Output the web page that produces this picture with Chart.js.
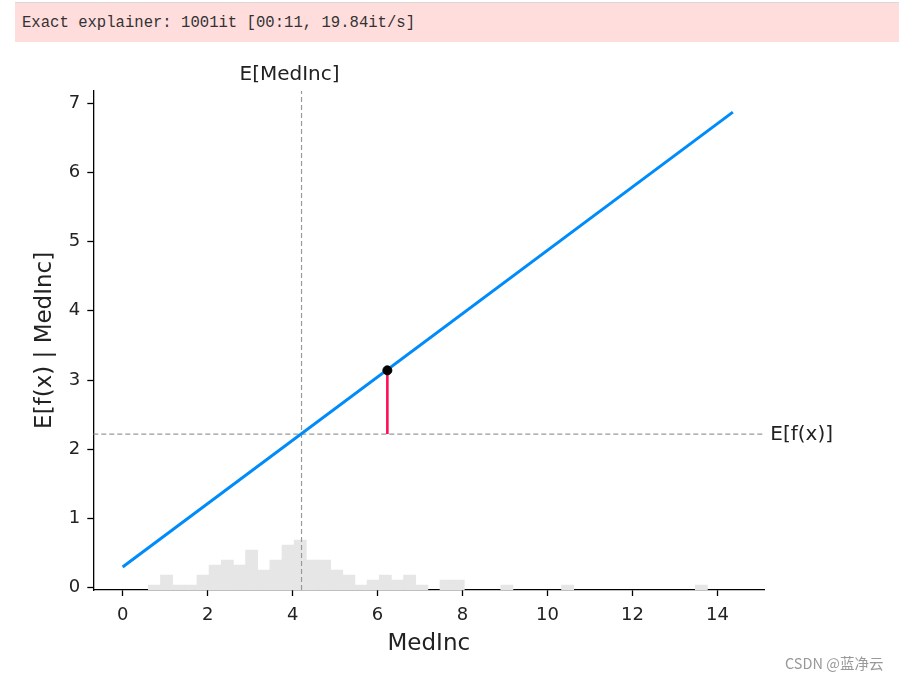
<!DOCTYPE html>
<html>
<head>
<meta charset="utf-8">
<script src="https://cdn.jsdelivr.net/npm/chart.js@4.4.1/dist/chart.umd.min.js"></script>
<style>
    body { margin: 0; background: #fff; width: 899px; height: 678px; overflow: hidden; position: relative; }
    #chart { position: absolute; left: 0; top: 0; }
    .log-line {
        position: absolute; left: 15px; top: 2px; width: 884px; height: 40px;
        background: #ffdddd; border-top: 1px solid #d8d8d8;
        font-family: "Liberation Mono", monospace; font-size: 15.6px; color: #333;
        line-height: 41px; padding-left: 7px; box-sizing: border-box; white-space: pre;
    }
    .watermark {
        position: absolute; left: 785px; top: 652px;
        font-family: "Noto Sans CJK SC", sans-serif; font-size: 14.5px; color: #999;
    }
</style>
</head>
<body>
<div class="log-line">Exact explainer: 1001it [00:11, 19.84it/s]</div>
<canvas id="chart" width="899" height="678"></canvas>
<div class="watermark">CSDN @蓝净云</div>
<script>
// values
const featureName = 'MedInc';
const xTicks = [0, 2, 4, 6, 8, 10, 12, 14];
const yTicks = [0, 1, 2, 3, 4, 5, 6, 7];
const xRange = [-0.69, 15.1];
const yRange = [-0.033, 7.18];

// partial dependence line (linear model)
const pdX = [0, 14.36];
const pdY = [0.30, 6.87];

// expected values and the explained sample
const expectedX = 4.21;    // E[MedInc]
const expectedY = 2.22;    // E[f(x)]
const sampleX = 6.23;
const sampleY = 3.14;

// histogram of the 100 background samples, 50 bins
const histStart = 0.605;
const histBinWidth = 0.286;
const histCounts = [1, 3, 1, 1, 3, 5, 6, 5, 8, 4,
                    6, 9, 10, 6, 6, 4, 3, 1, 2, 3,
                    2, 3, 1, 0, 2, 2, 0, 0, 0, 1,
                    0, 0, 0, 0, 1, 0, 0, 0, 0, 0,
                    0, 0, 0, 0, 0, 1, 0, 0, 0, 0];
const histTotal = 100;

Chart.defaults.font.family = '"DejaVu Sans"';
Chart.defaults.color = '#222';

// empty bins stay in the list (keeps the bar width) but draw nothing
const histData = histCounts.map((c, i) => ({ x: histStart + histBinWidth * (i + 0.5), y: c > 0 ? c : null }));

// text labels for E[MedInc] (top) and E[f(x)] (right)
const refLabels = {
    id: 'refLabels',
    afterDraw(chart) {
        const { ctx, chartArea, scales } = chart;
        ctx.save();
        ctx.font = '20px "DejaVu Sans"';
        ctx.fillStyle = '#222';
        ctx.textBaseline = 'middle';
        ctx.textAlign = 'center';
        ctx.fillText('E[' + featureName + ']', scales.x.getPixelForValue(expectedX) - 12, chartArea.top - 16);
        ctx.textAlign = 'left';
        ctx.fillText('E[f(x)]', chartArea.right + 6, scales.y.getPixelForValue(expectedY) + 1);
        ctx.restore();
    }
};

const ctx = document.getElementById('chart').getContext('2d');
const chart = new Chart(ctx, {
    type: 'scatter',
    data: {
        datasets: [
            {
                type: 'scatter',
                data: [{ x: sampleX, y: sampleY }],
                backgroundColor: '#000',
                borderColor: '#000',
                pointRadius: 4.5,
                order: 1
            },
            {
                type: 'line',
                data: [{ x: sampleX, y: expectedY }, { x: sampleX, y: sampleY }],
                borderColor: '#ff0d57',
                borderWidth: 2.6,
                pointRadius: 0,
                order: 2
            },
            {
                type: 'line',
                data: pdX.map((x, i) => ({ x: x, y: pdY[i] })),
                borderColor: '#008bfb',
                borderWidth: 3,
                pointRadius: 0,
                order: 3
            },
            {
                type: 'line',
                data: [{ x: expectedX, y: yRange[0] }, { x: expectedX, y: yRange[1] }],
                borderColor: '#999',
                borderWidth: 1.2,
                borderDash: [5, 3],
                pointRadius: 0,
                order: 4
            },
            {
                type: 'line',
                data: [{ x: xRange[0], y: expectedY }, { x: xRange[1], y: expectedY }],
                borderColor: '#999',
                borderWidth: 1.2,
                borderDash: [5, 3],
                pointRadius: 0,
                order: 5
            },
            {
                type: 'bar',
                data: histData,
                yAxisID: 'y2',
                backgroundColor: '#e6e6e6',
                borderWidth: 0,
                barPercentage: 1,
                categoryPercentage: 1,
                order: 6
            }
        ]
    },
    options: {
        responsive: false,
        animation: false,
        layout: { padding: { top: 90.7, right: 134.7, left: 0, bottom: 0 } },
        plugins: { legend: { display: false }, tooltip: { enabled: false } },
        scales: {
            x: {
                type: 'linear',
                min: xRange[0],
                max: xRange[1],
                offset: false,
                afterFit: (s) => { s.height = 88; },
                afterBuildTicks: (s) => { s.ticks = xTicks.map(v => ({ value: v })); },
                grid: { display: true, drawOnChartArea: false, offset: false, tickLength: 6, tickColor: '#000', tickWidth: 1.3 },
                border: { display: true, color: '#000', width: 1.3 },
                ticks: { font: { size: 18 }, padding: 9, maxRotation: 0, color: '#222' },
                title: { display: true, text: featureName, font: { size: 23 }, padding: { top: 0, bottom: 20 }, color: '#222' }
            },
            y: {
                type: 'linear',
                min: yRange[0],
                max: yRange[1],
                afterFit: (s) => { s.width = 93.3; },
                afterBuildTicks: (s) => { s.ticks = yTicks.map(v => ({ value: v })); },
                grid: { display: true, drawOnChartArea: false, tickLength: 6, tickColor: '#000', tickWidth: 1.3 },
                border: { display: true, color: '#000', width: 1.3 },
                ticks: { font: { size: 18 }, padding: 7, color: '#222' },
                title: { display: true, text: 'E[f(x) | ' + featureName + ']', font: { size: 23 }, padding: { top: 31, bottom: 0 }, color: '#222' }
            },
            y2: {
                type: 'linear',
                display: false,
                min: 0,
                max: histTotal
            }
        }
    },
    plugins: [refLabels]
});
</script>
</body>
</html>
